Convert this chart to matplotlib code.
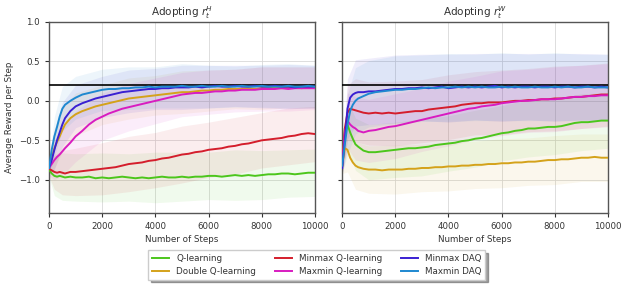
import matplotlib
matplotlib.use("Agg")
import matplotlib.pyplot as plt
import numpy as np

# x positions of the recorded averages (steps)
steps = [0, 100, 200, 300, 400, 500, 600, 800] + list(range(1000, 10001, 250))
# coarser grid used for the shaded spread
band_steps = [0, 200, 500, 1000, 2000, 3000, 4000, 5000, 6000, 7000, 8000, 9000, 10000]

labels = ["Q-learning", "Double Q-learning", "Minmax Q-learning",
          "Maxmin Q-learning", "Minmax DAQ", "Maxmin DAQ"]
colors = ["#4cc61c", "#d4a21a", "#d41e2c", "#d81cc0", "#3a20d2", "#1e88d0"]

# ---- panel 1: adopting r^H ----
q_h = [-0.87, -0.92, -0.95, -0.96, -0.95, -0.96, -0.97, -0.96, -0.97, -0.97, -0.96,
       -0.98, -0.97, -0.98, -0.97, -0.96, -0.97, -0.98, -0.97, -0.98, -0.97, -0.96,
       -0.97, -0.97, -0.96, -0.97, -0.96, -0.96, -0.95, -0.95, -0.96, -0.95, -0.94,
       -0.95, -0.94, -0.95, -0.94, -0.93, -0.93, -0.92, -0.92, -0.93, -0.92, -0.91, -0.91]
double_h = [-0.85, -0.72, -0.60, -0.52, -0.45, -0.37, -0.30, -0.22, -0.17, -0.13, -0.10,
            -0.07, -0.05, -0.03, -0.01, 0.01, 0.03, 0.04, 0.05, 0.06, 0.07, 0.08,
            0.09, 0.10, 0.11, 0.11, 0.12, 0.13, 0.13, 0.14, 0.14, 0.15, 0.15,
            0.15, 0.16, 0.15, 0.16, 0.16, 0.17, 0.16, 0.17, 0.17, 0.16, 0.17, 0.17]
minmax_h = [-0.86, -0.88, -0.90, -0.91, -0.90, -0.91, -0.92, -0.90, -0.90, -0.89, -0.88,
            -0.87, -0.86, -0.85, -0.84, -0.82, -0.80, -0.79, -0.78, -0.76, -0.75, -0.73,
            -0.72, -0.70, -0.68, -0.67, -0.65, -0.64, -0.62, -0.61, -0.60, -0.58, -0.57,
            -0.55, -0.54, -0.52, -0.50, -0.49, -0.48, -0.47, -0.45, -0.44, -0.42, -0.41, -0.42]
maxmin_h = [-0.85, -0.80, -0.75, -0.71, -0.68, -0.64, -0.60, -0.53, -0.45, -0.38, -0.30,
            -0.24, -0.20, -0.16, -0.13, -0.10, -0.08, -0.06, -0.04, -0.02, 0.00, 0.02,
            0.04, 0.06, 0.08, 0.09, 0.10, 0.10, 0.11, 0.12, 0.12, 0.13, 0.13,
            0.14, 0.14, 0.14, 0.15, 0.15, 0.15, 0.16, 0.15, 0.16, 0.16, 0.16, 0.16]
minmaxdaq_h = [-0.85, -0.75, -0.62, -0.50, -0.40, -0.30, -0.22, -0.13, -0.07, -0.03, 0.00,
               0.03, 0.05, 0.07, 0.09, 0.11, 0.12, 0.13, 0.14, 0.15, 0.15, 0.16,
               0.16, 0.17, 0.17, 0.17, 0.18, 0.17, 0.18, 0.19, 0.18, 0.18, 0.19,
               0.18, 0.18, 0.19, 0.18, 0.18, 0.19, 0.18, 0.18, 0.17, 0.18, 0.18, 0.18]
maxmindaq_h = [-0.85, -0.62, -0.45, -0.33, -0.20, -0.10, -0.05, 0.00, 0.04, 0.08, 0.10,
               0.12, 0.14, 0.15, 0.15, 0.16, 0.16, 0.17, 0.17, 0.18, 0.17, 0.18,
               0.18, 0.18, 0.19, 0.18, 0.18, 0.19, 0.18, 0.18, 0.19, 0.18, 0.18,
               0.19, 0.18, 0.18, 0.19, 0.18, 0.18, 0.18, 0.19, 0.18, 0.18, 0.19, 0.18]
spread_h = [
    [0.10, 0.25, 0.30, 0.30, 0.31, 0.30, 0.32, 0.31, 0.30, 0.32, 0.31, 0.30, 0.30],
    [0.08, 0.25, 0.28, 0.27, 0.25, 0.26, 0.25, 0.27, 0.26, 0.25, 0.27, 0.26, 0.26],
    [0.10, 0.22, 0.28, 0.30, 0.33, 0.35, 0.35, 0.36, 0.35, 0.36, 0.35, 0.36, 0.35],
    [0.10, 0.25, 0.30, 0.32, 0.30, 0.30, 0.29, 0.28, 0.28, 0.27, 0.28, 0.28, 0.27],
    [0.08, 0.25, 0.28, 0.27, 0.26, 0.27, 0.26, 0.28, 0.27, 0.26, 0.27, 0.28, 0.27],
    [0.08, 0.25, 0.28, 0.27, 0.26, 0.27, 0.26, 0.28, 0.27, 0.26, 0.27, 0.28, 0.27],
]

# ---- panel 2: adopting r^W ----
q_w = [-0.82, -0.35, -0.30, -0.40, -0.48, -0.55, -0.58, -0.63, -0.65, -0.65, -0.64,
       -0.63, -0.62, -0.61, -0.60, -0.60, -0.59, -0.58, -0.56, -0.55, -0.54, -0.53,
       -0.51, -0.50, -0.48, -0.47, -0.45, -0.43, -0.41, -0.40, -0.38, -0.37, -0.35,
       -0.35, -0.34, -0.33, -0.33, -0.32, -0.30, -0.28, -0.27, -0.27, -0.26, -0.25, -0.25]
double_w = [-0.82, -0.60, -0.62, -0.72, -0.78, -0.82, -0.84, -0.86, -0.87, -0.87, -0.88,
            -0.87, -0.87, -0.87, -0.86, -0.86, -0.85, -0.85, -0.84, -0.84, -0.83, -0.83,
            -0.82, -0.82, -0.81, -0.81, -0.80, -0.80, -0.79, -0.79, -0.78, -0.78, -0.77,
            -0.77, -0.76, -0.75, -0.75, -0.74, -0.74, -0.73, -0.72, -0.72, -0.71, -0.72, -0.72]
minmax_w = [-0.82, -0.35, -0.15, -0.10, -0.11, -0.12, -0.13, -0.15, -0.16, -0.15, -0.16,
            -0.15, -0.16, -0.15, -0.14, -0.13, -0.13, -0.11, -0.10, -0.09, -0.08, -0.07,
            -0.05, -0.04, -0.03, -0.03, -0.02, -0.02, -0.02, -0.01, 0.00, 0.00, 0.01,
            0.01, 0.02, 0.02, 0.03, 0.03, 0.04, 0.05, 0.05, 0.06, 0.07, 0.08, 0.08]
maxmin_w = [-0.82, -0.40, -0.25, -0.30, -0.33, -0.35, -0.38, -0.40, -0.38, -0.37, -0.35,
            -0.33, -0.32, -0.30, -0.28, -0.26, -0.24, -0.22, -0.20, -0.18, -0.16, -0.14,
            -0.12, -0.10, -0.09, -0.07, -0.06, -0.05, -0.03, -0.02, -0.01, 0.00, 0.00,
            0.01, 0.02, 0.02, 0.02, 0.03, 0.04, 0.05, 0.05, 0.06, 0.06, 0.07, 0.07]
minmaxdaq_w = [-0.85, -0.50, -0.10, 0.04, 0.08, 0.10, 0.11, 0.11, 0.12, 0.12, 0.13,
               0.14, 0.15, 0.15, 0.16, 0.16, 0.17, 0.16, 0.17, 0.18, 0.16, 0.17,
               0.18, 0.17, 0.18, 0.17, 0.18, 0.19, 0.17, 0.18, 0.17, 0.18, 0.18,
               0.17, 0.18, 0.18, 0.17, 0.18, 0.18, 0.17, 0.18, 0.18, 0.17, 0.18, 0.17]
maxmindaq_w = [-0.82, -0.55, -0.30, -0.13, -0.05, 0.00, 0.03, 0.06, 0.09, 0.11, 0.12,
               0.13, 0.14, 0.14, 0.15, 0.15, 0.16, 0.17, 0.16, 0.17, 0.17, 0.18,
               0.17, 0.18, 0.17, 0.18, 0.17, 0.17, 0.18, 0.17, 0.18, 0.17, 0.17,
               0.18, 0.17, 0.17, 0.18, 0.17, 0.18, 0.17, 0.17, 0.18, 0.17, 0.17, 0.17]
spread_w = [
    [0.10, 0.30, 0.33, 0.35, 0.35, 0.36, 0.35, 0.36, 0.35, 0.36, 0.35, 0.36, 0.35],
    [0.10, 0.28, 0.30, 0.30, 0.31, 0.30, 0.31, 0.30, 0.31, 0.30, 0.31, 0.30, 0.30],
    [0.10, 0.35, 0.40, 0.40, 0.41, 0.40, 0.41, 0.40, 0.41, 0.40, 0.41, 0.40, 0.40],
    [0.10, 0.35, 0.40, 0.40, 0.41, 0.40, 0.41, 0.40, 0.41, 0.40, 0.41, 0.40, 0.40],
    [0.10, 0.38, 0.42, 0.42, 0.43, 0.42, 0.43, 0.42, 0.43, 0.42, 0.43, 0.42, 0.42],
    [0.10, 0.38, 0.42, 0.42, 0.43, 0.42, 0.43, 0.42, 0.43, 0.42, 0.43, 0.42, 0.42],
]

optimum = 0.2

panels = [
    ("Adopting $r_t^{H}$", [q_h, double_h, minmax_h, maxmin_h, minmaxdaq_h, maxmindaq_h], spread_h),
    ("Adopting $r_t^{W}$", [q_w, double_w, minmax_w, maxmin_w, minmaxdaq_w, maxmindaq_w], spread_w),
]

plt.rcParams["font.size"] = 6
plt.rcParams["text.color"] = "#333333"
plt.rcParams["axes.labelcolor"] = "#333333"
plt.rcParams["xtick.color"] = "#333333"
plt.rcParams["ytick.color"] = "#333333"

fig = plt.figure(figsize=(6.21, 2.84), dpi=100)
ax1 = fig.add_axes([0.079, 0.250, 0.428, 0.673])
ax2 = fig.add_axes([0.551, 0.250, 0.428, 0.673], sharey=ax1)

x = np.array(steps)
bidx = [steps.index(s) for s in band_steps]

handles = []
for ax, (title, series, spreads) in zip([ax1, ax2], panels):
    for vals, sp, c in zip(series, spreads, colors):
        m = np.array(vals)[bidx]
        s = np.array(sp)
        ax.fill_between(band_steps, m - s, m + s, color=c, alpha=0.08, lw=0)
    ax.axhline(optimum, color="black", lw=1.2, zorder=3)
    lines = []
    for vals, c, lab in zip(series, colors, labels):
        ln, = ax.plot(x, vals, color=c, lw=1.4, label=lab, zorder=4)
        lines.append(ln)
    handles = lines
    ax.set_title(title, fontsize=7.5, pad=4)
    ax.set_xlim(0, 10000)
    ax.set_ylim(-1.42, 1.0)
    ax.set_xticks([0, 2000, 4000, 6000, 8000, 10000])
    ax.set_yticks([-1.0, -0.5, 0.0, 0.5, 1.0])
    ax.tick_params(labelsize=6.2, length=3)
    ax.grid(True, color="#d8d8d8", lw=0.6)
    ax.set_axisbelow(True)
    ax.set_xlabel("Number of Steps", fontsize=6.3, labelpad=3)
    for sp in ax.spines.values():
        sp.set_color("#555555")
        sp.set_linewidth(1.0)

ax1.set_ylabel("Average Reward per Step", fontsize=6.3)
plt.setp(ax2.get_yticklabels(), visible=False)

fig.legend(handles, labels, loc="lower center", bbox_to_anchor=(0.51, 0.0),
           ncol=3, fancybox=False, shadow=True, fontsize=6.3,
           handlelength=2.0, columnspacing=2.1, edgecolor="#cccccc")

fig.savefig("out.png", dpi=100)
